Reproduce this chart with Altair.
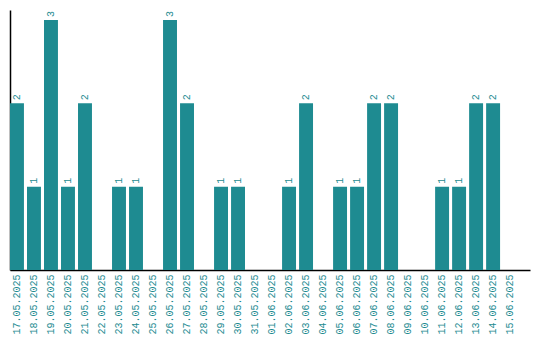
import altair as alt
import pandas as pd

dates = ["17.05.2025", "18.05.2025", "19.05.2025", "20.05.2025", "21.05.2025",
         "22.05.2025", "23.05.2025", "24.05.2025", "25.05.2025", "26.05.2025",
         "27.05.2025", "28.05.2025", "29.05.2025", "30.05.2025", "31.05.2025",
         "01.06.2025", "02.06.2025", "03.06.2025", "04.06.2025", "05.06.2025",
         "06.06.2025", "07.06.2025", "08.06.2025", "09.06.2025", "10.06.2025",
         "11.06.2025", "12.06.2025", "13.06.2025", "14.06.2025", "15.06.2025"]
counts = [2, 1, 3, 1, 2, 0, 1, 1, 0, 3, 2, 0, 1, 1, 0,
          0, 1, 2, 0, 1, 1, 2, 2, 0, 0, 1, 1, 2, 2, 0]

df = pd.DataFrame({"date": dates, "v": counts})

TEAL = "#1e8b91"
FONT = "Liberation Mono"

x = alt.X("date:N", sort=dates, title=None,
          scale=alt.Scale(paddingInner=0.18, paddingOuter=0.38, align=0),
          axis=alt.Axis(labelAngle=-90, labelColor=TEAL, labelFont=FONT, labelFontSize=10,
                        ticks=False, domainColor="#000", domainWidth=1.5,
                        labelPadding=4, labelAlign="right", labelBaseline="middle"))
y = alt.Y("v:Q", title=None,
          scale=alt.Scale(domain=[0, 3.12], nice=False),
          axis=alt.Axis(labels=False, ticks=False, grid=False, domainColor="#000",
                        domainWidth=1.5))

bars = alt.Chart(df).mark_bar(color=TEAL).encode(x=x, y=y)

labels = alt.Chart(df).transform_filter("datum.v > 0").mark_text(
    angle=270, align="left", baseline="middle", dx=3,
    color=TEAL, font=FONT, fontSize=10
).encode(x=alt.X("date:N", sort=dates), y="v:Q", text="v:Q")

chart = (bars + labels).properties(
    width=520, height=260,
    autosize=alt.AutoSizeParams(type="none"),
    padding={"left": 2, "top": 2, "right": 2, "bottom": 68},
).configure_view(stroke=None).configure_axis(grid=False)

chart.save("out.html", embed_options={"renderer": "svg", "actions": False})
